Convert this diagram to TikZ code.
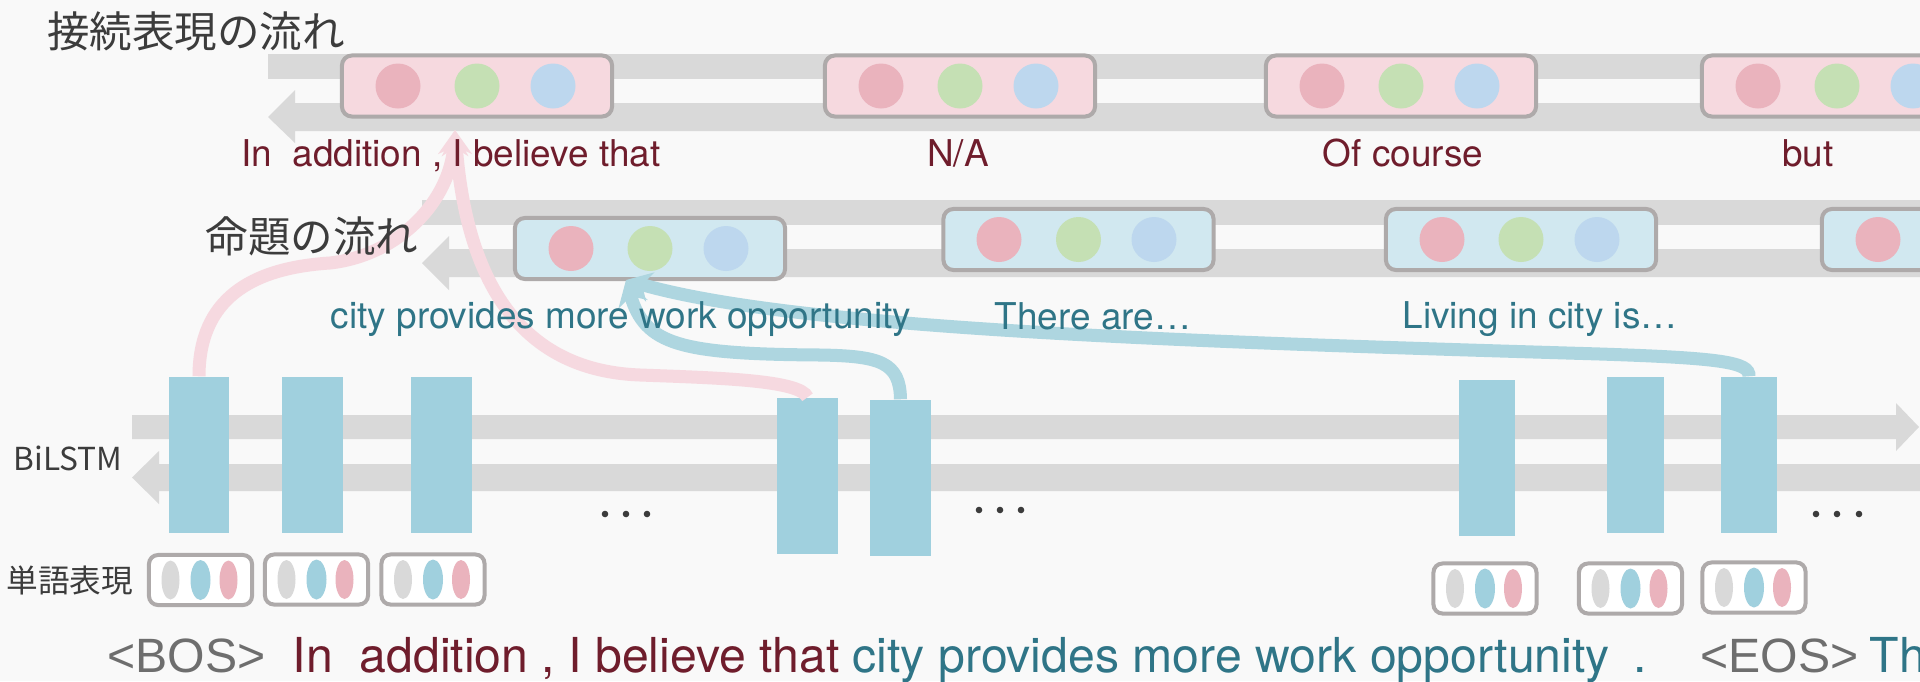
\documentclass[tikz,border=0pt]{standalone}
\usepackage{fontspec}
\setmainfont{TeX Gyre Heros}
\newfontfamily\jpfont{Noto Sans CJK JP}
\newfontfamily\lsfont{Liberation Sans}
\usepackage{tikz}
\usetikzlibrary{arrows.meta,calc,positioning}
\usepackage{xcolor}
\definecolor{bgc}{HTML}{F9F9F9}
\definecolor{bandc}{HTML}{D9D9D9}
\definecolor{frameg}{HTML}{AEAAAA}
\definecolor{pinkbox}{HTML}{F6D9DF}
\definecolor{bluebox}{HTML}{D1E8F0}
\definecolor{dpink}{HTML}{EAB3BD}
\definecolor{dgreen}{HTML}{C5E0B4}
\definecolor{dblue}{HTML}{BDD7EE}
\definecolor{dgray}{HTML}{D9D9D9}
\definecolor{lstmc}{HTML}{A0D0DE}
\definecolor{cvpink}{HTML}{F6D9E0}
\definecolor{cvblue}{HTML}{AED6E0}
\definecolor{txtred}{HTML}{6F1D2C}
\definecolor{txtteal}{HTML}{2F7587}
\definecolor{txtgray}{HTML}{6E6E6E}
\definecolor{darkt}{HTML}{3C3C3C}
\tikzset{
  cbox/.style={draw=frameg, line width=0.04cm, rounded corners=0.1cm, fill=pinkbox, minimum width=2.70cm, minimum height=0.61cm, inner sep=0},
  pbox/.style={cbox, fill=bluebox},
  wbox/.style={draw=frameg, line width=0.04cm, rounded corners=0.09cm, fill=white, minimum width=1.03cm, minimum height=0.50cm, inner sep=0},
  lstm/.style={fill=lstmc, minimum width=0.60cm, minimum height=1.56cm, inner sep=0},
  jplab/.style={font=\jpfont\fontsize{12.1}{14}\selectfont, text=darkt, inner sep=0},
  smlab/.style={font=\jpfont\fontsize{9}{11}\selectfont, text=darkt, inner sep=0},
  clab/.style={font=\fontsize{10.5}{12}\selectfont, text=txtred, anchor=base, inner sep=0},
  plab/.style={clab, text=txtteal},
  wtxt/.style={font=\fontsize{13.7}{16}\selectfont, anchor=base west, inner sep=0},
  pflow/.style={draw=cvpink, line width=0.13cm, -{Stealth[length=0.25cm,width=0.30cm]}},
  bflow/.style={pflow, draw=cvblue}
}
\begin{document}
\begin{tikzpicture}[x=0.01cm, y=-0.01cm]
\path[use as bounding box, fill=bgc] (0,0) rectangle (1920,681);
\clip (0,0) rectangle (1920,681);
% flows
\fill[bandc] (268,54) rectangle (1920,79);
\fill[bandc] (1920,103) -- (295,103) -- (295,90) -- (268,117) -- (295,143) -- (295,131) -- (1920,131) -- cycle;
\fill[bandc] (422,200) rectangle (1920,225);
\fill[bandc] (1920,249) -- (449,249) -- (449,236) -- (422,263) -- (449,290) -- (449,277) -- (1920,277) -- cycle;
\fill[bandc] (132,415) -- (1896,415) -- (1896,403) -- (1919,427) -- (1896,451) -- (1896,439) -- (132,439) -- cycle;
\fill[bandc] (1920,464) -- (159,464) -- (159,451) -- (132,477.5) -- (159,504) -- (159,491) -- (1920,491) -- cycle;
% bilstm
\node[lstm] (b1) at (199,455) {};
\node[lstm] (b2) at (312.5,455) {};
\node[lstm] (b3) at (441.5,455) {};
\node[lstm] (b4) at (807.5,476) {};
\node[lstm] (b5) at (900.5,478) {};
\node[lstm, minimum width=0.56cm] (b6) at (1487,458) {};
\node[lstm, minimum width=0.56cm] (b7) at (1635.5,455) {};
\node[lstm, minimum width=0.56cm] (b8) at (1749,455) {};
% connective / proposition boxes
\node[cbox] (c1) at (477,86) {};
\node[cbox] (c2) at (960,86) {};
\node[cbox] (c3) at (1401,86) {};
\node[cbox] (c4) at (1837,86) {};
\node[pbox] (p1) at (650,248.5) {};
\node[pbox] (p2) at (1078.5,239.5) {};
\node[pbox] (p3) at (1521,239.5) {};
\node[pbox] (p4) at (1957,239.5) {};
\coordinate (t1) at ($(c1.south)+(-22,11.5)$);
\coordinate (t2) at ($(p1.south)+(-24,-1)$);
\draw[pflow] (b1.north) .. controls (199,300) and (250,268) .. (330,263) .. controls (400,255) and (450,200) .. (t1);
\draw[pflow] (b4.north) .. controls (800,380) and (720,378) .. (640,375) .. controls (560,372) and (470,330) .. (t1);
\draw[bflow] (b5.north) .. controls (900,362) and (880,356) .. (820,355) .. controls (680,354) and (645,345) .. (t2);
\draw[bflow] (b8.north) .. controls (1750,362) and (1720,358) .. (1600,354) .. controls (1200,342) and (800,330) .. (t2);
\fill[dpink] (398,86) circle (22.5) (881,86) circle (22.5) (1322,86) circle (22.5) (1758,86) circle (22.5);
\fill[dgreen] (477,86) circle (22.5) (960,86) circle (22.5) (1401,86) circle (22.5) (1837,86) circle (22.5);
\fill[dblue] (553,86) circle (22.5) (1036,86) circle (22.5) (1477,86) circle (22.5) (1913,86) circle (22.5);
\fill[dpink] (571,248.5) circle (22.5) (999,239.5) circle (22.5) (1442,239.5) circle (22.5) (1878,239.5) circle (22.5);
\fill[dgreen] (650,248.5) circle (22.5) (1078.5,239.5) circle (22.5) (1521,239.5) circle (22.5);
\fill[dblue] (726,248.5) circle (22.5) (1154,239.5) circle (22.5) (1597,239.5) circle (22.5);
% word boxes
\node[wbox] (w1) at (200.5,580) {};
\node[wbox] (w2) at (316.5,579.5) {};
\node[wbox] (w3) at (433,579.5) {};
\node[wbox] (w6) at (1485,588.5) {};
\node[wbox] (w7) at (1630.5,588.5) {};
\node[wbox] (w8) at (1754,587.5) {};
\fill[dgray] (170.5,580) ellipse (9 and 19.5) (286.5,579.5) ellipse (9 and 19.5) (403,579.5) ellipse (9 and 19.5) (1455,588.5) ellipse (9 and 19.5) (1600.5,588.5) ellipse (9 and 19.5) (1724,587.5) ellipse (9 and 19.5);
\fill[lstmc] (200.5,580) ellipse (10 and 20) (316.5,579.5) ellipse (10 and 20) (433,579.5) ellipse (10 and 20) (1485,588.5) ellipse (10 and 20) (1630.5,588.5) ellipse (10 and 20) (1754,587.5) ellipse (10 and 20);
\fill[dpink] (228.5,580) ellipse (9 and 19.5) (344.5,579.5) ellipse (9 and 19.5) (461,579.5) ellipse (9 and 19.5) (1513,588.5) ellipse (9 and 19.5) (1658.5,588.5) ellipse (9 and 19.5) (1782,587.5) ellipse (9 and 19.5);
% dots
\fill[darkt] (605,514) circle (3.3) (626,514) circle (3.3) (647,514) circle (3.3);
\fill[darkt] (979,510) circle (3.3) (1000,510) circle (3.3) (1021,510) circle (3.3);
\fill[darkt] (1816,514) circle (3.3) (1837,514) circle (3.3) (1859,514) circle (3.3);
% labels
\node[jplab] (ttl1) at (196,31) {接続表現の流れ};
\node[jplab] (ttl2) at (312,236) {命題の流れ};
\node[smlab] (bil) at (68,458) {BiLSTM};
\node[smlab] (wrep) at (70,581) {単語表現};
\node[clab] (cl1) at (451,166) {In~~addition , I believe that};
\node[clab] (cl2) at (958,166) {N/A};
\node[clab] (cl3) at (1403,166) {Of course};
\node[clab] (cl4) at (1808,166) {but};
\node[plab] (pl1) at (621,328) {city provides more work opportunity};
\node[plab] (pl2) at (1093,329) {There are…};
\node[plab] (pl3) at (1540,328) {Living in city is…};
% sentence
\node[wtxt, text=txtgray] (bos) at (107,672) {\lsfont<BOS>};
\node[wtxt, text=txtred] (s1) at (292,672) {In~~addition , I believe that};
\node[wtxt, text=txtteal] (s2) at (852,672) {city provides more work opportunity};
\node[wtxt, text=txtteal] (s3) at (1633,672) {.};
\node[wtxt, text=txtgray] (eos) at (1700,672) {\lsfont<EOS>};
\node[wtxt, text=txtteal] (s4) at (1869,672) {Th};
\end{tikzpicture}
\end{document}
